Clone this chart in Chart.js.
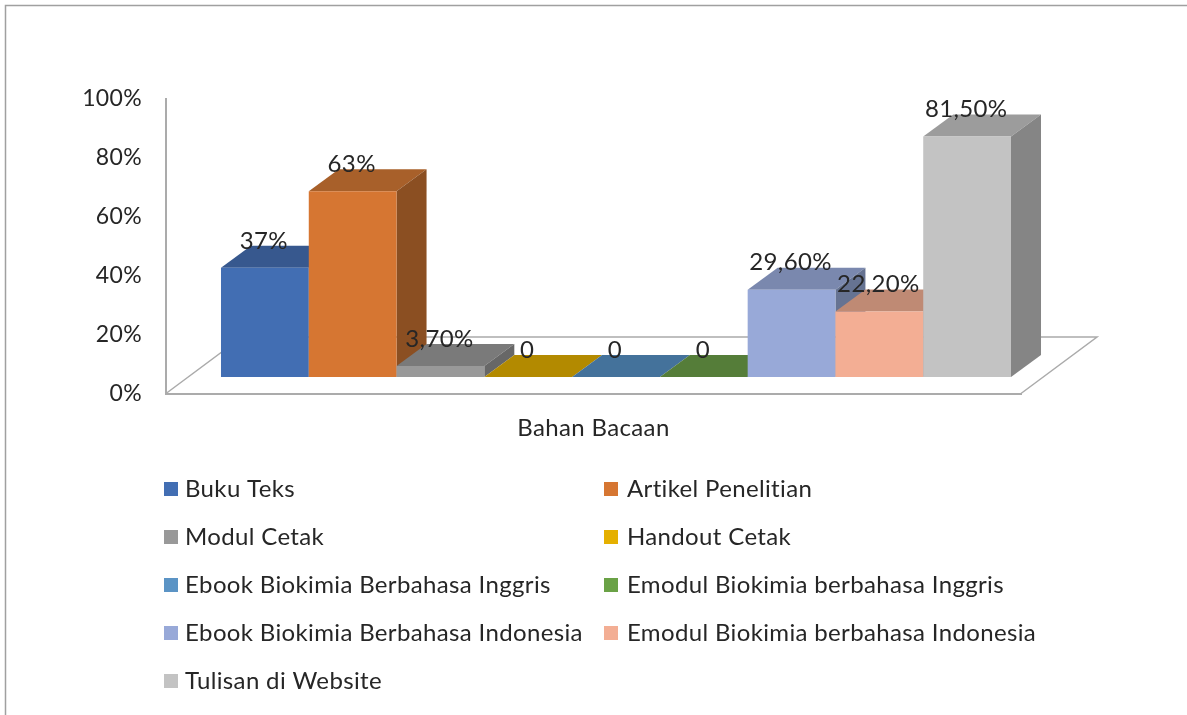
<!DOCTYPE html>
<html><head><meta charset="utf-8">
<script src="https://cdn.jsdelivr.net/npm/chart.js@4/dist/chart.umd.min.js"></script>
<style>html,body{margin:0;padding:0;background:#fff}canvas{display:block}</style>
</head><body><canvas id="c" width="1187" height="715"></canvas>
<script>
const categories = ['Bahan Bacaan'];
const seriesNames = ['Buku Teks','Artikel Penelitian','Modul Cetak','Handout Cetak','Ebook Biokimia Berbahasa Inggris','Emodul Biokimia berbahasa Inggris','Ebook Biokimia Berbahasa Indonesia','Emodul Biokimia berbahasa Indonesia','Tulisan di Website'];
const seriesValues = [37,63,3.7,0,0,0,29.6,22.2,81.5];
const valueLabels = ['37%','63%','3,70%','0','0','0','29,60%','22,20%','81,50%'];
const frontColors = ['#426EB3','#D67632','#999999','#E5B000','#5B94C5','#6AA246','#98A9D8','#F3AE94','#C3C3C3'];
const topColors = ['#37588E','#A8602A','#7A7A7A','#B38A00','#44729B','#557D39','#7A88AE','#BF8A74','#9C9C9C'];
const sideColors = ['#2F4C7A','#8B4F22','#676767','#967300','#3A6285','#486A30','#667392','#A27562','#858585'];
const yTicks = [0,20,40,60,80,100];

const FAMILY = 'Lato, "Open Sans", sans-serif';
const FONT = '24px ' + FAMILY;
const INK = '#262626', EDGE = '#ababab';
const SHIFT_X = 22.5, SHIFT_Y = -16.5, DEPTH_X = 30, DEPTH_Y = 22;
const FLOOR_X = 76, FLOOR_Y = 56.5;

const scene = {
  id:'scene',
  beforeDraw(ch){
    const c = ch.ctx;
    c.letterSpacing = '0.35px';
    c.save();
    c.fillStyle='#fff'; c.fillRect(0,0,ch.width,ch.height);
    c.strokeStyle='#a0a0a0'; c.lineWidth=1.5;
    c.beginPath(); c.moveTo(5.5,ch.height); c.lineTo(5.5,5.5); c.lineTo(ch.width,5.5); c.stroke();
    c.restore();
  },
  beforeDatasetsDraw(ch){
    const c = ch.ctx, a = ch.chartArea, y0 = ch.scales.y.getPixelForValue(0);
    c.save();
    c.strokeStyle=EDGE; c.lineWidth=1.5;
    c.beginPath();
    c.moveTo(a.left,y0); c.lineTo(a.left+FLOOR_X,y0-FLOOR_Y); c.lineTo(a.right+FLOOR_X,y0-FLOOR_Y); c.lineTo(a.right,y0);
    c.stroke();
    c.restore();
    c.save();
    c.translate(SHIFT_X,SHIFT_Y);
    // painter's order: left to right, so each bar's front hides the side of the one before it
    seriesNames.forEach((n,i)=>{
      const bar = ch.getDatasetMeta(i).data[0];
      const l = bar.x-bar.width/2, r = bar.x+bar.width/2, t = bar.y, b = bar.base;
      c.fillStyle=topColors[i];
      c.beginPath(); c.moveTo(l,t); c.lineTo(l+DEPTH_X,t-DEPTH_Y); c.lineTo(r+DEPTH_X,t-DEPTH_Y); c.lineTo(r,t); c.closePath(); c.fill();
      c.fillStyle=sideColors[i];
      c.beginPath(); c.moveTo(r,t); c.lineTo(r+DEPTH_X,t-DEPTH_Y); c.lineTo(r+DEPTH_X,b-DEPTH_Y); c.lineTo(r,b); c.closePath(); c.fill();
      bar.draw(c);
    });
    c.font=FONT; c.fillStyle=INK; c.textAlign='center'; c.textBaseline='middle';
    valueLabels.forEach((txt,i)=>{
      const bar = ch.getDatasetMeta(i).data[0];
      c.fillText(txt,bar.x-1,bar.y-27);
    });
    c.restore();
  },
  beforeDatasetDraw(){ return false; },
  afterDraw(ch){
    const c = ch.ctx, cols=[[164,185],[604,627]], rowY=[489,537,585,633,681];
    c.save();
    c.font=FONT; c.textBaseline='middle'; c.textAlign='left';
    seriesNames.forEach((n,i)=>{
      const col=cols[i%2], y=rowY[Math.floor(i/2)];
      c.fillStyle=frontColors[i]; c.fillRect(col[0],y-7,14,14);
      c.fillStyle=INK; c.fillText(n,col[1],y);
    });
    c.restore();
  }
};

new Chart(document.getElementById('c'),{
  type:'bar',
  data:{labels:categories,datasets:seriesNames.map((n,i)=>({
    label:n,data:[seriesValues[i]],backgroundColor:frontColors[i],borderWidth:0,
    categoryPercentage:0.924,barPercentage:1
  }))},
  options:{
    responsive:false,animation:false,
    layout:{padding:{left:0,top:98.5,right:166,bottom:0}},
    plugins:{legend:{display:false},tooltip:{enabled:false},title:{display:false}},
    scales:{
      x:{grid:{display:false,drawTicks:false},border:{display:true,color:EDGE,width:2},
         ticks:{font:{family:FAMILY,size:24},color:INK,padding:20},
         afterFit(s){s.height=321.5;}},
      y:{min:0,max:100,afterBuildTicks(s){s.ticks=yTicks.map(v=>({value:v}));},
         grid:{display:false,drawTicks:false},border:{display:true,color:EDGE,width:2},
         ticks:{font:{family:FAMILY,size:23},color:INK,padding:24,callback:v=>v+'%'},
         afterFit(s){s.width=166;}}
    }
  },
  plugins:[scene]
});
</script></body></html>
